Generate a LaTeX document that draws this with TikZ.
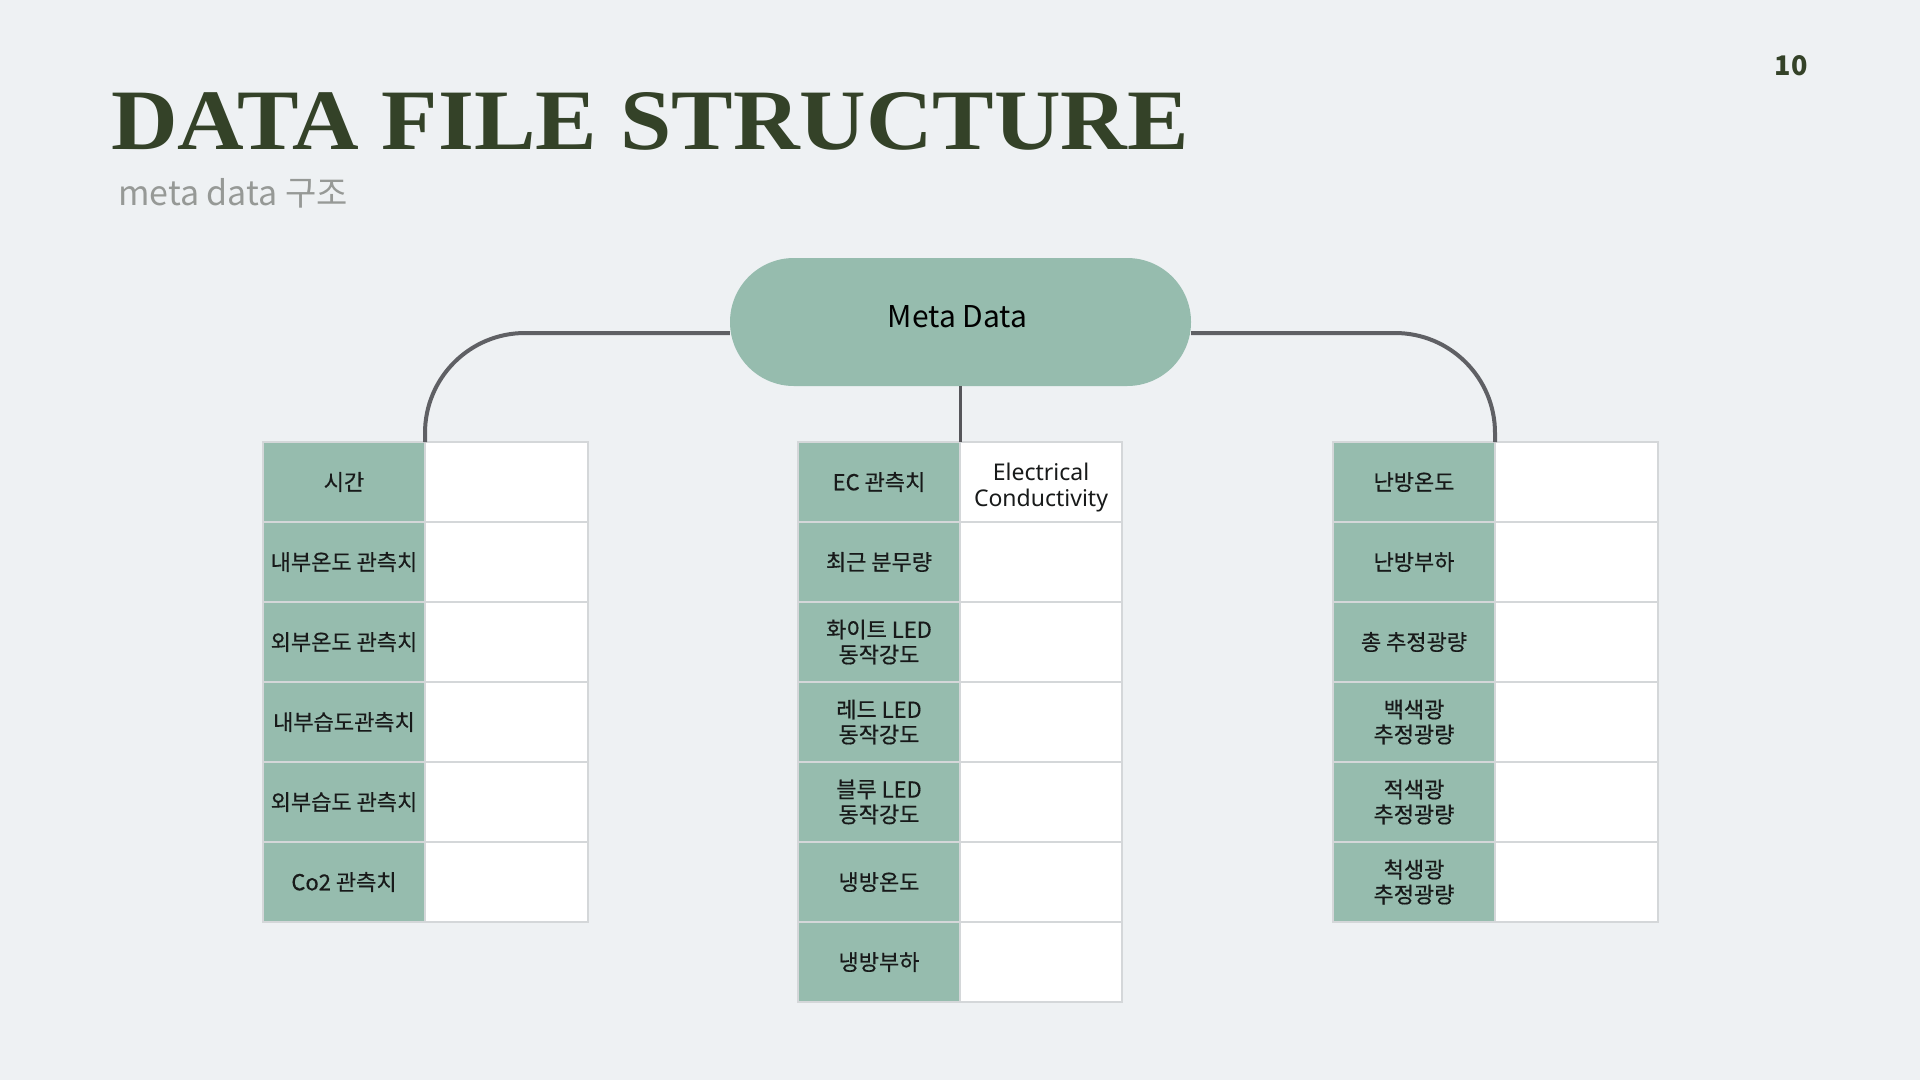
\documentclass[tikz,border=0pt]{standalone}
\usepackage{fontspec}
\setmainfont{Noto Sans CJK KR}
\newfontfamily\cellfont[FakeBold=0.5]{Noto Sans CJK KR}
\newfontfamily\titlefont{Liberation Serif}
\newfontfamily\ecfont{Noto Sans}
\usetikzlibrary{calc}

\definecolor{paper}{RGB}{238,241,243}
\definecolor{sage}{RGB}{150,188,174}
\definecolor{forest}{RGB}{52,66,40}
\definecolor{linkgray}{RGB}{95,96,100}
\definecolor{cellline}{RGB}{212,215,217}
\definecolor{subgray}{RGB}{150,153,150}
\definecolor{ink}{RGB}{24,26,26}

\tikzset{
  cellbase/.style={anchor=north west, inner sep=0pt, outer sep=0pt,
    draw=cellline, line width=1.6pt, minimum height=80pt, align=center,
    text=ink, font=\cellfont\fontsize{22}{25}\selectfont},
  keycell/.style={cellbase, fill=sage, minimum width=162pt},
  valcell/.style={cellbase, fill=white, minimum width=163pt},
  pill/.style={fill=sage, rounded corners=63.9pt, minimum width=461pt,
    minimum height=128pt, inner sep=0pt, text=black,
    font=\fontsize{30}{34}\selectfont},
  link/.style={draw=linkgray, line width=4pt, rounded corners=100pt},
  stem/.style={draw=linkgray!90!black, line width=3pt}
}

\begin{document}
\begin{tikzpicture}[x=1pt,y=-1pt]
  % page
  \fill[paper] (0,0) rectangle (1920,1080);
  \useasboundingbox (0,0) rectangle (1920,1080);

  % heading
  \node[anchor=base west, inner sep=0pt, text=forest] (title) at (111,149)
    {\resizebox{1077pt}{57pt}{\titlefont\bfseries DATA FILE STRUCTURE}};
  \node[anchor=base west, inner sep=0pt, text=subgray,
    font=\fontsize{34}{37}\selectfont] (subtitle) at (118,205) {meta data 구조};
  \node[anchor=base, inner sep=0pt, text=forest,
    font=\fontsize{27}{30}\selectfont\bfseries] (pagenum) at (1791,75) {10};

  % root
  \node[pill] (meta) at (960.5,322) {};
  \node[font=\fontsize{30}{34}\selectfont, text=black, inner sep=0pt]
    (metalabel) at (957.5,317) {Meta Data};

  % left table
  \foreach \t [count=\i] in {시간, 내부온도 관측치, 외부온도 관측치,
      내부습도관측치, 외부습도 관측치, Co2 관측치} {
    \node[keycell] (Lk\i) at (263,{442+80*(\i-1)}) {\t};
    \node[valcell] (Lv\i) at (425,{442+80*(\i-1)}) {};
  }

  % middle table
  \foreach \t [count=\i] in {EC 관측치, 최근 분무량, {화이트 LED\\동작강도},
      {레드 LED\\동작강도}, {블루 LED\\동작강도}, 냉방온도, 냉방부하} {
    \node[keycell] (Mk\i) at (798,{442+80*(\i-1)}) {\t};
    \node[valcell, minimum width=162pt] (Mv\i) at (960,{442+80*(\i-1)}) {};
  }
  \node[font=\ecfont\fontsize{23}{26}\selectfont, align=center, text=ink]
    (ec) at ([yshift=-6pt]Mv1.center) {Electrical\\Conductivity};

  % right table
  \foreach \t [count=\i] in {난방온도, 난방부하, 총 추정광량,
      {백색광\\추정광량}, {적색광\\추정광량}, {척생광\\추정광량}} {
    \node[keycell] (Rk\i) at (1333,{442+80*(\i-1)}) {\t};
    \node[valcell] (Rv\i) at (1495,{442+80*(\i-1)}) {};
  }

  % connectors
  \draw[link] ([yshift=-11pt]meta.west) -| (Lk1.north east);
  \draw[link] ([yshift=-11pt]meta.east) -| (Rk1.north east);
  \draw[stem] (meta.south -| Mk1.north east) -- (Mk1.north east);
\end{tikzpicture}
\end{document}
